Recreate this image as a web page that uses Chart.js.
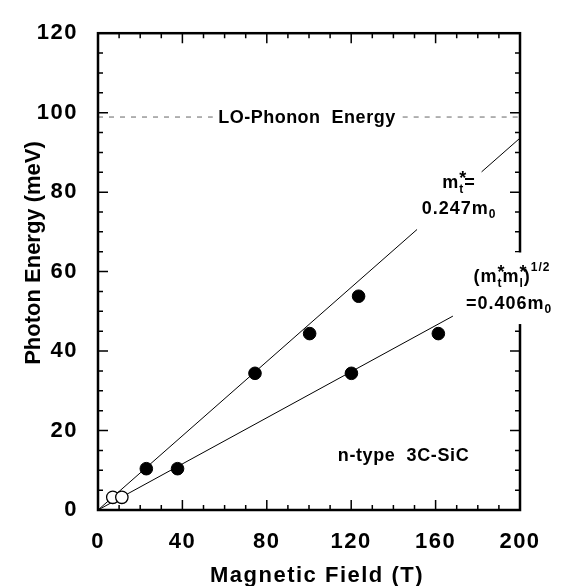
<!DOCTYPE html>
<html lang="en">
<head>
<meta charset="UTF-8">
<title>Photon Energy vs Magnetic Field - n-type 3C-SiC</title>
<script src="https://cdn.jsdelivr.net/npm/chart.js"></script>
<style>
    body { margin: 0; background: #fff; }
    #wrap { width: 563px; height: 586px; position: relative; }
</style>
</head>
<body>
<div id="wrap"><canvas id="grafico"></canvas></div>
<script>
// measured points (T, meV)
const filledB = [22.9, 37.7, 74.4, 100.3, 120.1, 123.5, 161.3];
const filledE = [10.4, 10.4, 34.4, 44.4, 34.4, 53.8, 44.4];
const openB = [7.0, 11.3];
const openE = [3.2, 3.2];
// fitted lines (null = gap where the label sits)
const fitTransB = [0, 151.2, null, 181.8, 200];
const fitTransE = [0, 70.6, null, 85.1, 93.6];
const fitMeanB = [0, 168.2];
const fitMeanE = [0, 48.8];
// LO-phonon energy, dashed
const phononB = [0, 54.4, null, 144.4, 200];
const phononE = [98.9, 98.9, null, 98.9, 98.9];
// axes
const xMin = 0, xMax = 200, xStep = 40, xMinor = 10;
const yMin = 0, yMax = 120, yStep = 20, yMinor = 5;
const xTitle = "Magnetic Field (T)";
const yTitle = "Photon Energy (meV)";

const FONT = "'Liberation Sans', Arial, Helvetica, sans-serif";

function pts(xs, ys) {
    return xs.map((v, i) => ({x: v, y: ys[i]}));
}
// split on nulls -> separate line pieces
function pieces(xs, ys) {
    let out = [], cur = [];
    xs.forEach((v, i) => {
        if (v === null) { out.push(cur); cur = []; }
        else cur.push({x: v, y: ys[i]});
    });
    out.push(cur);
    return out;
}

let datasets = [
    { data: pts(filledB, filledE), backgroundColor: '#000', borderColor: '#000', pointRadius: 6.3, showLine: false, order: 0 },
    { data: pts(openB, openE), backgroundColor: '#fff', borderColor: '#000', borderWidth: 1.3, pointRadius: 6.2, showLine: false, order: 1 }
];
pieces(fitTransB, fitTransE).concat(pieces(fitMeanB, fitMeanE)).forEach(p => {
    datasets.push({ data: p, showLine: true, borderColor: '#000', borderWidth: 1, pointRadius: 0, order: 5 });
});
pieces(phononB, phononE).forEach(p => {
    datasets.push({ data: p, showLine: true, borderColor: '#666', borderWidth: 1, borderDash: [5, 6], pointRadius: 0, order: 6 });
});

function drawRuns(ctx, runs, cx, cy, size, spacing) {
    ctx.letterSpacing = spacing + 'px';
    let w = 0;
    runs.forEach(r => {
        ctx.font = 'bold ' + (r.s || size) + 'px ' + FONT;
        r.w = ctx.measureText(r.t).width;
        if (!r.stack) w += r.w;
    });
    let x = cx - w / 2;
    ctx.textAlign = 'left';
    ctx.textBaseline = 'middle';
    runs.forEach(r => {
        ctx.font = 'bold ' + (r.s || size) + 'px ' + FONT;
        ctx.fillText(r.t, x, cy + (r.dy || 0));
        if (!r.stack) x += r.w;
    });
}

const setSpacing = {
    id: 'setSpacing',
    beforeDraw(chart) { chart.ctx.letterSpacing = '1.5px'; }
};

const frameAndText = {
    id: 'frameAndText',
    afterDraw(chart) {
        const {ctx, chartArea: a, scales: {x, y}} = chart;
        ctx.save();
        ctx.strokeStyle = '#000';
        ctx.lineWidth = 1.5;
        ctx.beginPath();
        for (let v = xMin; v <= xMax; v += xMinor) {
            const px = x.getPixelForValue(v);
            const len = v % xStep === 0 ? 10 : 5;
            ctx.moveTo(px, a.bottom); ctx.lineTo(px, a.bottom - len);
            ctx.moveTo(px, a.top); ctx.lineTo(px, a.top + len);
        }
        for (let v = yMin; v <= yMax; v += yMinor) {
            const py = y.getPixelForValue(v);
            const len = v % yStep === 0 ? 10 : 5;
            ctx.moveTo(a.left, py); ctx.lineTo(a.left + len, py);
            ctx.moveTo(a.right, py); ctx.lineTo(a.right - len, py);
        }
        ctx.stroke();
        ctx.lineWidth = 2.5;
        ctx.strokeRect(a.left, a.top, a.right - a.left, a.bottom - a.top);

        // axis titles
        ctx.fillStyle = '#000';
        ctx.textBaseline = 'middle';
        ctx.textAlign = 'center';
        ctx.font = 'bold 22px ' + FONT;
        ctx.letterSpacing = '1.5px';
        ctx.fillText(xTitle, 317, 576);
        ctx.save();
        ctx.translate(34, 253);
        ctx.rotate(-Math.PI / 2);
        ctx.letterSpacing = '0px';
        ctx.fillText(yTitle, 0, 0);
        ctx.restore();

        // labels inside the plot
        const X = v => x.getPixelForValue(v), Y = v => y.getPixelForValue(v);
        drawRuns(ctx, [{t: 'LO-Phonon  Energy'}], X(99), Y(98.6), 18, 0.5);
        drawRuns(ctx, [{t: 'n-type  3C-SiC'}], X(144.8), Y(13.6), 18, 0.6);
        drawRuns(ctx, [{t: 'm'}, {t: '*', s: 18, dy: -4, stack: true}, {t: 't', s: 12, dy: 7}, {t: '='}], X(171.1), Y(82.3), 18, 1);
        drawRuns(ctx, [{t: '0.247m'}, {t: '0', s: 12, dy: 6}], X(171.1), Y(75.8), 18, 1);

        // white patch over the right frame for the second label
        ctx.fillStyle = '#fff';
        ctx.fillRect(X(170.6), Y(64.8), 563 - X(170.6), Y(46.8) - Y(64.8));
        ctx.fillStyle = '#000';
        drawRuns(ctx, [{t: '(m'}, {t: '*', s: 18, dy: -4, stack: true}, {t: 't', s: 12, dy: 7}, {t: 'm'},
                       {t: '*', s: 18, dy: -4, stack: true}, {t: 'l', s: 12, dy: 7}, {t: ')'}, {t: '1/2', s: 12, dy: -9}],
                 X(196.2), Y(58.6), 18, 1);
        drawRuns(ctx, [{t: '=0.406m'}, {t: '0', s: 12, dy: 6}], X(194.8), Y(51.9), 18, 1);
        ctx.restore();
    }
};

new Chart(document.getElementById('grafico'), {
    type: 'scatter',
    data: { datasets: datasets },
    options: {
        responsive: true,
        maintainAspectRatio: false,
        animation: false,
        layout: { padding: { top: 15.5, right: 43, left: 0, bottom: 0 } },
        plugins: { legend: { display: false }, tooltip: { enabled: false } },
        scales: {
            x: {
                type: 'linear', min: xMin, max: xMax,
                afterFit(s) { s.height = 76; },
                grid: { display: false, drawTicks: false },
                border: { display: false },
                ticks: { stepSize: xStep, padding: 19, color: '#000', font: { family: FONT, size: 22, weight: 'bold' } }
            },
            y: {
                type: 'linear', min: yMin, max: yMax,
                afterFit(s) { s.width = 98; },
                grid: { display: false, drawTicks: false },
                border: { display: false },
                ticks: { stepSize: yStep, padding: 20, color: '#000', font: { family: FONT, size: 22, weight: 'bold' } }
            }
        }
    },
    plugins: [setSpacing, frameAndText]
});
</script>
</body>
</html>
